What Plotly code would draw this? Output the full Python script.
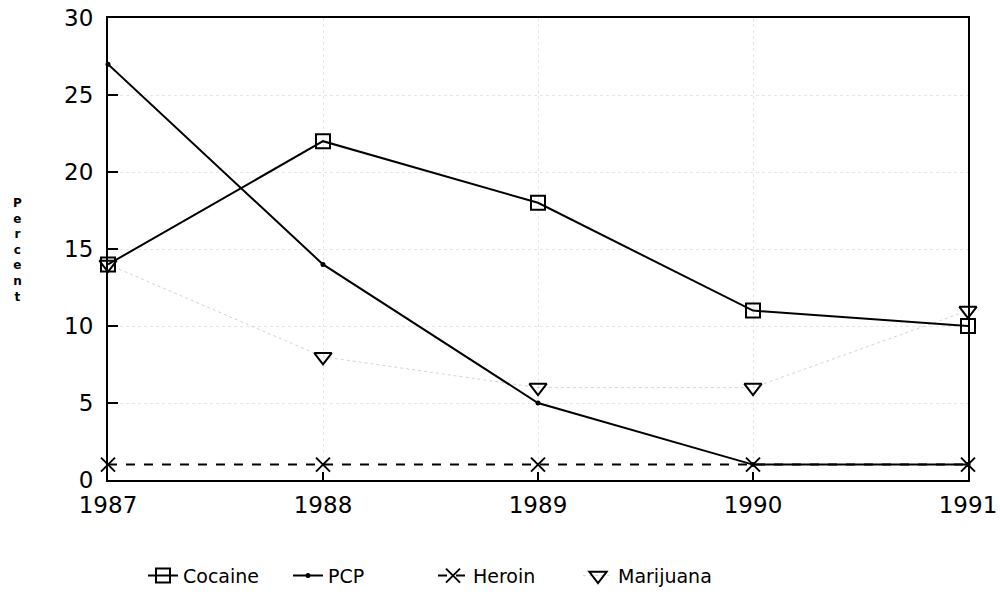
import plotly.graph_objects as go

years = [1987, 1988, 1989, 1990, 1991]
cocaine = [14, 22, 18, 11, 10]
pcp = [27, 14, 5, 1, 1]
heroin = [1, 1, 1, 1, 1]
marijuana = [14, 8, 6, 6, 11]

y_ticks = [0, 5, 10, 15, 20, 25, 30]

fig = go.Figure()

fig.add_trace(go.Scatter(
    x=years, y=marijuana, name="Marijuana", mode="lines+markers",
    line=dict(color="#d4d4d4", width=1, dash="dot"),
    marker=dict(symbol="triangle-down-open", size=15, color="black", line=dict(width=2)),
    cliponaxis=False))
fig.add_trace(go.Scatter(
    x=years, y=heroin, name="Heroin", mode="lines+markers",
    line=dict(color="black", width=2, dash="dash"),
    marker=dict(symbol="x-thin-open", size=14, color="black", line=dict(width=2, color="black")),
    cliponaxis=False))
fig.add_trace(go.Scatter(
    x=years, y=pcp, name="PCP", mode="lines+markers",
    line=dict(color="black", width=2),
    marker=dict(symbol="circle", size=5, color="black"),
    cliponaxis=False))
fig.add_trace(go.Scatter(
    x=years, y=cocaine, name="Cocaine", mode="lines+markers",
    line=dict(color="black", width=2),
    marker=dict(symbol="square-open", size=14, color="black", line=dict(width=2)),
    cliponaxis=False))

axis_font = dict(family="DejaVu Sans", size=23, color="black")

fig.update_layout(
    width=1000, height=601,
    margin=dict(l=108, r=32, t=18, b=121),
    paper_bgcolor="white", plot_bgcolor="white",
    font=dict(family="DejaVu Sans", color="black"),
    showlegend=True,
    legend=dict(orientation="h", xref="container", yref="container",
                x=0.143, xanchor="left", y=0.042, yanchor="middle",
                traceorder="reversed", font=dict(size=19),
                entrywidth=100, entrywidthmode="pixels"),
    xaxis=dict(range=[1987, 1991], tickvals=years, ticks="inside", ticklen=8,
               tickwidth=2, tickcolor="black", showline=True, linecolor="black",
               linewidth=2, mirror=True, showgrid=True, gridcolor="#e6e6e6",
               griddash="dot", gridwidth=1, tickfont=axis_font, zeroline=False,
               automargin=False, ticklabelstandoff=3),
    yaxis=dict(range=[0, 30], tickvals=y_ticks, ticks="inside", ticklen=10,
               tickwidth=2, tickcolor="black", showline=True, linecolor="black",
               linewidth=2, mirror=True, showgrid=True, gridcolor="#e6e6e6",
               griddash="dot", gridwidth=1, tickfont=axis_font, zeroline=False,
               automargin=False, ticklabelstandoff=8),
)

fig.add_annotation(text="P<br>e<br>r<br>c<br>e<br>n<br>t", xref="paper", yref="paper",
                   x=-0.113, y=0.498, showarrow=False,
                   font=dict(size=12, weight="bold"), align="center")

# drop the browser's default 8px body margin so the figure sits at the page corner
fig.write_html("out.html", config={"displayModeBar": False},
               post_script="document.body.style.margin = '0';")
